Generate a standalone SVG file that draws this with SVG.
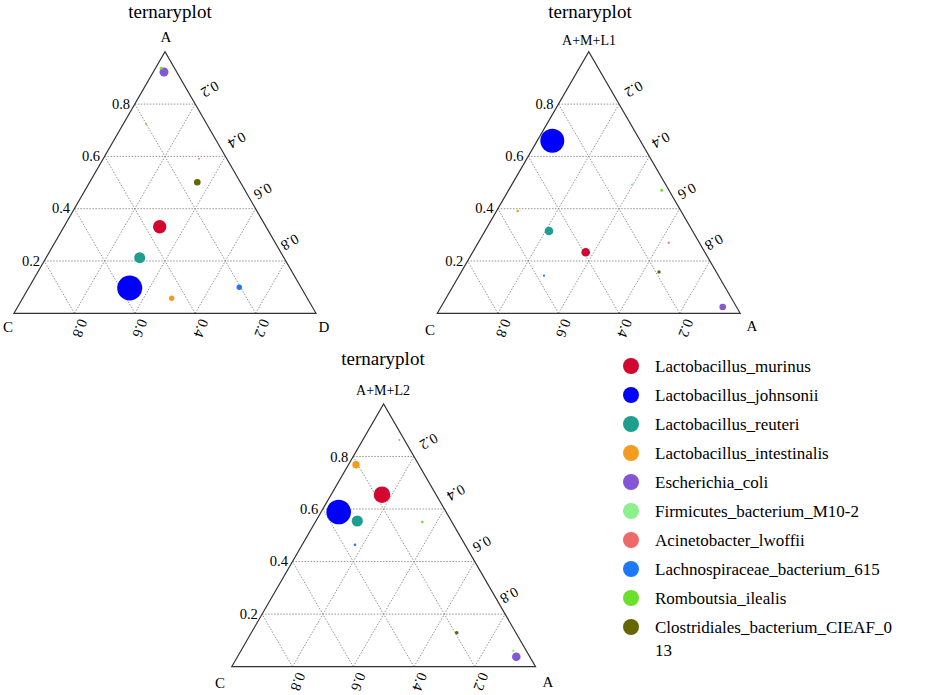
<svg xmlns="http://www.w3.org/2000/svg" xmlns:xlink="http://www.w3.org/1999/xlink" width="935" height="695" viewBox="0 0 935 695">
<style>
text{font-family:"Liberation Serif","Times New Roman",serif;fill:#000}
.t{font-size:19px;text-anchor:middle}
.v{font-size:15px;text-anchor:middle}
.k{font-size:14.5px}
.r{font-size:14.5px;text-anchor:middle;dominant-baseline:central}
.g{stroke:#888;stroke-width:0.9;stroke-dasharray:1.5 1.5;fill:none}
.f{stroke:#333;stroke-width:1.2;fill:none}
.lg{font-size:17px}
</style>
<defs>
<g id="tri">
<path class="g" d="M30.2,-52.3H271.8M60.4,-104.6H241.6M90.6,-156.9H211.4M120.8,-209.2H181.2M60.4,0L181.2,-209.2M120.8,0L211.4,-156.9M181.2,0L241.6,-104.6M241.6,0L271.8,-52.3M60.4,0L30.2,-52.3M120.8,0L60.4,-104.6M181.2,0L90.6,-156.9M241.6,0L120.8,-209.2"/>
<path class="f" d="M0,0L151,-261.5L302,0Z"/>
<text class="k" text-anchor="end" x="116" y="-204">0.8</text>
<text class="k" text-anchor="end" x="86" y="-152">0.6</text>
<text class="k" text-anchor="end" x="56" y="-100">0.4</text>
<text class="k" text-anchor="end" x="26" y="-47">0.2</text>
<text class="r" transform="translate(196,-224) rotate(150)">0.2</text>
<text class="r" transform="translate(223,-173) rotate(150)">0.4</text>
<text class="r" transform="translate(249,-122) rotate(150)">0.6</text>
<text class="r" transform="translate(276,-71) rotate(150)">0.8</text>
<text class="r" transform="translate(66,15) rotate(110)">0.8</text>
<text class="r" transform="translate(126,15) rotate(110)">0.6</text>
<text class="r" transform="translate(187,15) rotate(110)">0.4</text>
<text class="r" transform="translate(248,15) rotate(110)">0.2</text>
</g>
</defs>
<g id="plot1">
<text class="t" x="170" y="18">ternaryplot</text>
<use xlink:href="#tri" transform="translate(14,313.3)"/>
<text class="v" x="166" y="42">A</text>
<text class="v" x="8" y="332">C</text>
<text class="v" x="324" y="332">D</text>
<circle cx="164" cy="72" r="4.5" fill="#8356D6"/>
<circle cx="161.3" cy="68.3" r="1.5" fill="#6BE02A"/>
<circle cx="146" cy="124" r="1" fill="#6BE02A"/>
<circle cx="199" cy="158.7" r="1" fill="#EE8A8A"/>
<circle cx="197.3" cy="182.3" r="3.3" fill="#666600"/>
<circle cx="159.7" cy="226.7" r="6.7" fill="#D2062E"/>
<circle cx="139.7" cy="257.7" r="5.5" fill="#1E9E8E"/>
<circle cx="129.7" cy="288" r="12.5" fill="#0000FF"/>
<circle cx="171.7" cy="298.3" r="2.7" fill="#F39C1F"/>
<circle cx="239.3" cy="287.3" r="2.7" fill="#1E78FF"/>
</g>
<g id="plot2">
<text class="t" x="590" y="18">ternaryplot</text>
<text class="v" x="589" y="45" style="font-size:14px">A+M+L1</text>
<use xlink:href="#tri" transform="translate(437.3,313.3) scale(1.003,1)"/>
<text class="v" x="430" y="335">C</text>
<text class="v" x="752" y="331">A</text>
<circle cx="552.3" cy="140.7" r="12" fill="#0000FF"/>
<circle cx="632.3" cy="184.7" r="1.3" fill="#8CF08C"/>
<circle cx="661.7" cy="190.3" r="1.5" fill="#6BE02A"/>
<circle cx="517.7" cy="211" r="1.3" fill="#F39C1F"/>
<circle cx="549" cy="231" r="4.3" fill="#1E9E8E"/>
<circle cx="585.7" cy="252.3" r="4.3" fill="#D2062E"/>
<circle cx="668.7" cy="242.7" r="1.2" fill="#EE8A8A"/>
<circle cx="544" cy="275.7" r="1.1" fill="#1E78FF"/>
<circle cx="659" cy="272" r="1.7" fill="#666600"/>
<circle cx="722.7" cy="307" r="3.3" fill="#8356D6"/>
</g>
<g id="plot3">
<text class="t" x="383" y="365">ternaryplot</text>
<text class="v" x="383" y="395" style="font-size:14px">A+M+L2</text>
<use xlink:href="#tri" transform="translate(231.7,666.7) scale(1.006,1.005)"/>
<text class="v" x="220" y="688">C</text>
<text class="v" x="548" y="687">A</text>
<circle cx="399.3" cy="440" r="0.9" fill="#EE8A8A"/>
<circle cx="356" cy="464.7" r="3.7" fill="#F39C1F"/>
<circle cx="382" cy="494.7" r="8.3" fill="#D2062E"/>
<circle cx="338.7" cy="512" r="12.3" fill="#0000FF"/>
<circle cx="357.3" cy="521" r="5.6" fill="#1E9E8E"/>
<circle cx="422.3" cy="522" r="1.3" fill="#6BE02A"/>
<circle cx="355" cy="544.7" r="1.3" fill="#1E78FF"/>
<circle cx="456.7" cy="632.7" r="1.8" fill="#666600"/>
<circle cx="513.3" cy="650.7" r="1.2" fill="#8CF08C"/>
<circle cx="516.3" cy="656.7" r="4.3" fill="#8356D6"/>
</g>
<g id="legend">
<circle cx="631" cy="366" r="8" fill="#D2062E"/><text class="lg" x="655" y="372">Lactobacillus_murinus</text>
<circle cx="631" cy="395" r="8" fill="#0000FF"/><text class="lg" x="655" y="401">Lactobacillus_johnsonii</text>
<circle cx="631" cy="424" r="8" fill="#1E9E8E"/><text class="lg" x="655" y="430">Lactobacillus_reuteri</text>
<circle cx="631" cy="453" r="8" fill="#F39C1F"/><text class="lg" x="655" y="459">Lactobacillus_intestinalis</text>
<circle cx="631" cy="482" r="8" fill="#8356D6"/><text class="lg" x="655" y="488">Escherichia_coli</text>
<circle cx="631" cy="511" r="8" fill="#8CF08C"/><text class="lg" x="655" y="517">Firmicutes_bacterium_M10-2</text>
<circle cx="631" cy="540" r="8" fill="#EE6A6A"/><text class="lg" x="655" y="546">Acinetobacter_lwoffii</text>
<circle cx="631" cy="569" r="8" fill="#1E78FF"/><text class="lg" x="655" y="575">Lachnospiraceae_bacterium_615</text>
<circle cx="631" cy="598" r="8" fill="#6BE02A"/><text class="lg" x="655" y="604">Romboutsia_ilealis</text>
<circle cx="631" cy="627" r="8" fill="#666600"/><text class="lg" x="655" y="633">Clostridiales_bacterium_CIEAF_0</text>
<text class="lg" x="655" y="656">13</text>
</g>
</svg>
